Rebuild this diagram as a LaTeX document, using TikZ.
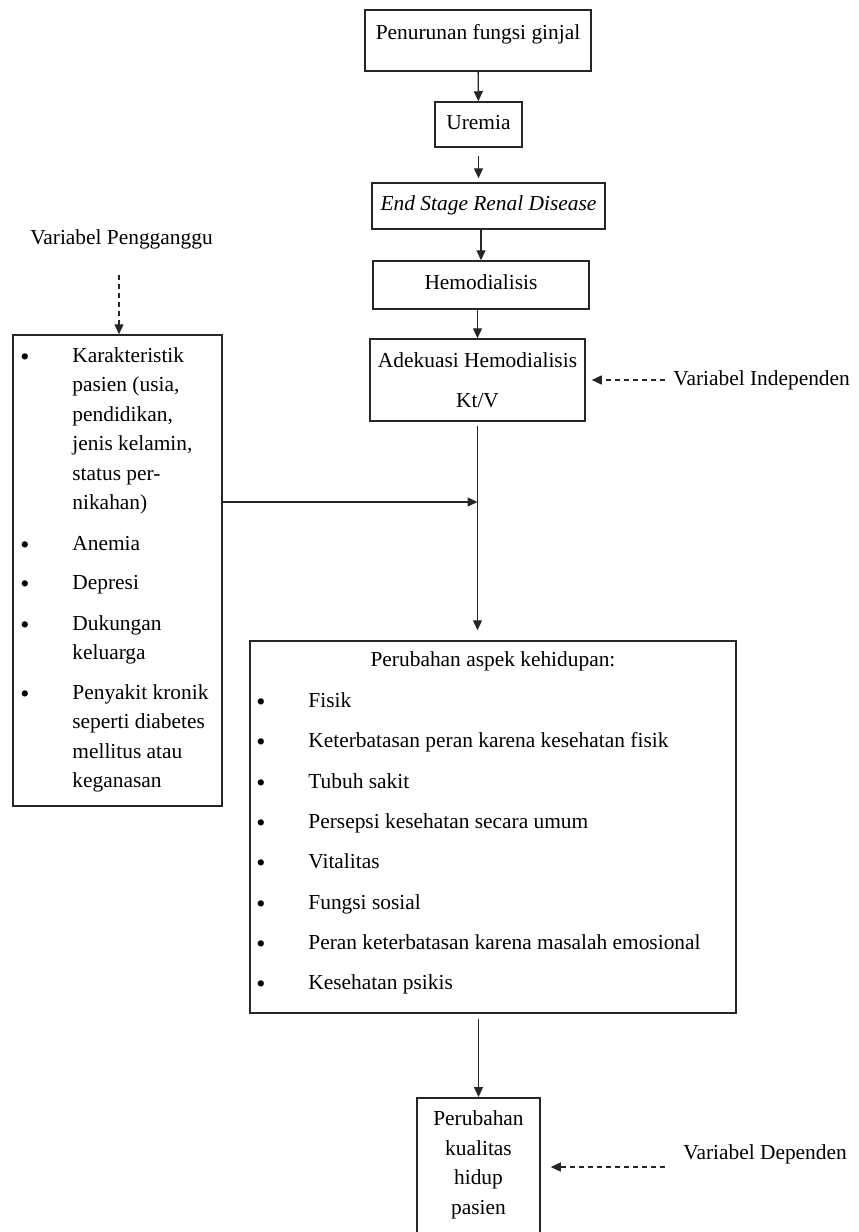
\documentclass[tikz,border=0pt]{standalone}
\usepackage{fontspec}
\setmainfont{Liberation Serif}
\usetikzlibrary{arrows.meta, positioning}
\tikzset{
    box/.style={draw=black!85, line width=0.75pt, inner sep=0pt},
    one/.style={text height=7pt, text depth=2.5pt},
    arr/.style={draw=black!85, line width=0.7pt, -{Triangle[length=5pt,width=4.5pt]}},
    dasharr/.style={arr, dash pattern=on 2.5pt off 2pt},
    item/.style={anchor=north west, inner sep=0pt, align=left},
    dot/.style={anchor=north, inner sep=0pt, yshift=-1.5pt, font=\fontsize{13}{14.75}\selectfont}
}
\newcommand{\fst}{\rule{0pt}{8pt}}

\begin{document}
\begin{tikzpicture}[x=0.5pt, y=-0.5pt, font=\fontsize{10.7}{14.75}\selectfont]
    \useasboundingbox (0,0) rectangle (858,1232);
    \clip (0,0) rectangle (858,1232);

    % Alur utama
    \node[box, minimum width=113pt, minimum height=30.5pt, text height=7pt, text depth=8.5pt] (fungsi) at (478,40.5) {Penurunan fungsi ginjal};
    \node[box, one, minimum width=43.5pt, minimum height=22.5pt] (uremia) at (478.5,124.5) {Uremia};
    \node[box, one, minimum width=116.5pt, minimum height=23pt] (esrd) at (488.5,206) {\itshape End Stage Renal Disease};
    \node[box, one, minimum width=108pt, minimum height=24pt] (hemo) at (481,285) {Hemodialisis};
    \node[box, align=center, minimum width=107.5pt, minimum height=41pt] (adek) at (477.5,380) {Adekuasi Hemodialisis\\[5.25pt]Kt/V};

    % Variabel pengganggu
    \node[box, minimum width=104.5pt, minimum height=235.5pt] (faktor) at (117.5,570.5) {};
    \foreach \y/\txt [count=\i] in {362/{Karakteristik\\pasien (usia,\\pendidikan,\\jenis kelamin,\\status per-\\nikahan)},
        550/Anemia, 589/Depresi, 630/{Dukungan\\keluarga},
        699/{Penyakit kronik\\seperti diabetes\\mellitus atau\\keganasan}}{
        \node[dot] (fb\i) at (25,\y-16) {\fst\textbullet};
        \node[item] (f\i) at (72,\y-16) {\fst\txt};
    }

    % Perubahan aspek kehidupan
    \node[box, minimum width=243pt, minimum height=186pt] (aspek) at (493,827) {};
    \node[anchor=base] (aspekJudul) at (493,666) {Perubahan aspek kehidupan:};
    \foreach \y/\txt [count=\i] in {707/Fisik, 747/Keterbatasan peran karena kesehatan fisik,
        788/Tubuh sakit, 828/Persepsi kesehatan secara umum, 868/Vitalitas,
        909/Fungsi sosial, 949/Peran keterbatasan karena masalah emosional, 989/Kesehatan psikis}{
        \node[dot] (ab\i) at (261,\y-16) {\fst\textbullet};
        \node[item] (a\i) at (308,\y-16) {\fst\txt};
    }

    \node[box, anchor=north, align=center, minimum width=61.5pt, inner ysep=6pt] (kualitas) at (478.5,1097)
        {\fst Perubahan\\kualitas\\hidup\\pasien\rule[-40pt]{0pt}{0pt}};

    % Label variabel
    \node[anchor=base] (pengganggu) at (121.5,244) {Variabel Pengganggu};
    \node[anchor=base west, inner sep=0pt] (independen) at (673,385) {Variabel Independen};
    \node[anchor=base west, inner sep=0pt] (dependen) at (683,1159) {Variabel Dependen};
    \coordinate (penggTail) at (119,275);
    \coordinate (indepTail) at (665,380);
    \coordinate (depenTail) at (665,1167);
    \coordinate (gabung) at (477.5,502);

    % Panah
    \draw[arr] (fungsi) -- (uremia);
    \draw[arr, shorten <=4pt, shorten >=2pt] (uremia.south) -- (uremia.south |- esrd.north);
    \draw[arr] (esrd.south -| hemo.north) -- (hemo.north);
    \draw[arr] (hemo.south -| adek.north) -- (adek.north);
    \draw[arr, shorten <=2pt, shorten >=5pt] (adek.south) -- (adek.south |- aspek.north);
    \draw[arr] (faktor.east |- gabung) -- (gabung);
    \draw[arr, shorten <=2.5pt] (aspek.south -| kualitas.north) -- (kualitas.north);
    \draw[dasharr] (penggTail) -- (penggTail |- faktor.north);
    \draw[dasharr, shorten >=3pt] (indepTail) -- (indepTail -| adek.east);
    \draw[dasharr, shorten >=5pt] (depenTail) -- (depenTail -| kualitas.east);
\end{tikzpicture}
\end{document}
